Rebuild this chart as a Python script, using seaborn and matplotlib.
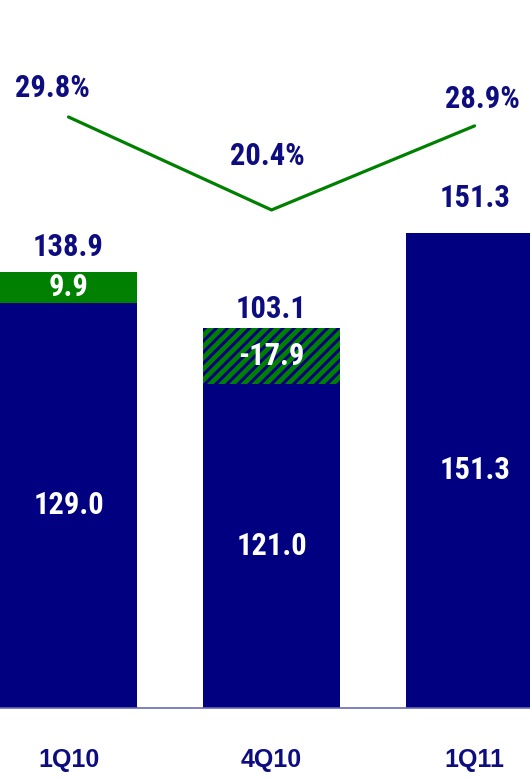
import os
import numpy as np
import pandas as pd
import matplotlib
matplotlib.use("Agg")
import matplotlib.pyplot as plt
from matplotlib import font_manager as fm
import seaborn as sns

categories = ["1Q10", "4Q10", "1Q11"]
core = [129.0, 121.0, 151.3]
adjust = [9.9, -17.9, 0.0]
total = [138.9, 103.1, 151.3]
margin = [29.8, 20.4, 28.9]

NAVY = "#000080"
GREEN = "#008000"
TXT = "#0d0d80"

sns.set_theme(style="white")
plt.rcParams["hatch.linewidth"] = 2.2
plt.rcParams["hatch.color"] = NAVY


def find_font(preds):
    names = [(os.path.basename(f.fname).lower(), f.fname) for f in fm.fontManager.ttflist]
    for pred in preds:
        for b, path in names:
            if pred(b):
                return path
    return None


cond_path = find_font([
    lambda b: b.startswith("robotocondensed-bold."),
    lambda b: "roboto" in b and "condensed" in b and "bold" in b and "italic" not in b and "semi" not in b and "extra" not in b,
    lambda b: b.startswith("liberationsansnarrow-bold."),
    lambda b: "opensans" in b and "condensed" in b and "bold" in b and "italic" not in b and "semi" not in b and "extra" not in b,
])
bold_path = find_font([lambda b: b.startswith("liberationsans-bold.")])

if cond_path:
    NUMSIZE = 22
else:
    NUMSIZE = 19.5


def numprops():
    if cond_path:
        return fm.FontProperties(fname=cond_path, size=NUMSIZE)
    return fm.FontProperties(family="DejaVu Sans", weight="bold",
                             stretch="condensed", size=NUMSIZE)


def tickprops(size):
    if bold_path:
        return fm.FontProperties(fname=bold_path, size=size)
    return fm.FontProperties(family="DejaVu Sans", weight="bold", size=size)


fig = plt.figure(figsize=(5.30, 7.79), dpi=100)
ax = fig.add_axes([0, 71 / 779, 1, 708 / 779])

pos = np.arange(len(categories))
upper = [max(c, t) for c, t in zip(core, total)]
lower = [min(c, t) for c, t in zip(core, total)]
upper_colors = [GREEN if a != 0 else NAVY for a in adjust]

df_up = pd.DataFrame({"cat": categories, "val": upper})
df_lo = pd.DataFrame({"cat": categories, "val": lower})

sns.barplot(data=df_up, x="cat", y="val", hue="cat", palette=upper_colors,
            width=0.675, ax=ax, legend=False, saturation=1, linewidth=0)
for i, a in enumerate(adjust):
    if a < 0:
        p = ax.patches[i]
        p.set_hatch("///")
        p.set_edgecolor(NAVY)
        p.set_linewidth(0)
sns.barplot(data=df_lo, x="cat", y="val", color=NAVY, width=0.675, ax=ax,
            saturation=1, linewidth=0)

ax.set_xlim(-0.3374, 2.273)
ax.set_ylim(0, 225.5)
ax.set_xlabel("")
ax.set_ylabel("")
ax.set_yticks([])
for s in ["top", "left", "right"]:
    ax.spines[s].set_visible(False)
ax.spines["bottom"].set_color("#6a6ab4")
ax.spines["bottom"].set_linewidth(1.2)
ax.set_xticks(pos)
ax.set_xticklabels(categories, color=TXT)
for lab in ax.get_xticklabels():
    lab.set_fontproperties(tickprops(18))
ax.tick_params(axis="x", length=0, pad=29)

for i in range(len(categories)):
    ax.text(pos[i], lower[i] / 2, f"{core[i]:.1f}", ha="center", va="center",
            color="white", fontproperties=numprops())
    if adjust[i] != 0:
        ax.text(pos[i], (lower[i] + upper[i]) / 2, f"{adjust[i]:.1f}",
                ha="center", va="center", color="white",
                fontproperties=numprops())

total_off = [25, 19, 35]
for i in range(len(categories)):
    ax.annotate(f"{total[i]:.1f}", (pos[i], upper[i]), xytext=(0, total_off[i]),
                textcoords="offset pixels", ha="center", va="center",
                color=TXT, fontproperties=numprops())

ax2 = ax.twinx()
ax2.set_position(ax.get_position())
sns.lineplot(x=pos, y=margin, ax=ax2, color=GREEN, linewidth=2.3)
ax2.set_ylim(-29.96, 41.63)
ax2.set_yticks([])
ax2.set_ylabel("")
for s in ["top", "left", "right", "bottom"]:
    ax2.spines[s].set_visible(False)

m_off = [(-16, 29), (-4, 54), (8, 27)]
for i in range(len(categories)):
    ax2.annotate(f"{margin[i]:.1f}%", (pos[i], margin[i]), xytext=m_off[i],
                 textcoords="offset pixels", ha="center", va="center",
                 color=TXT, fontproperties=numprops())

fig.savefig("out.png", dpi=100)
